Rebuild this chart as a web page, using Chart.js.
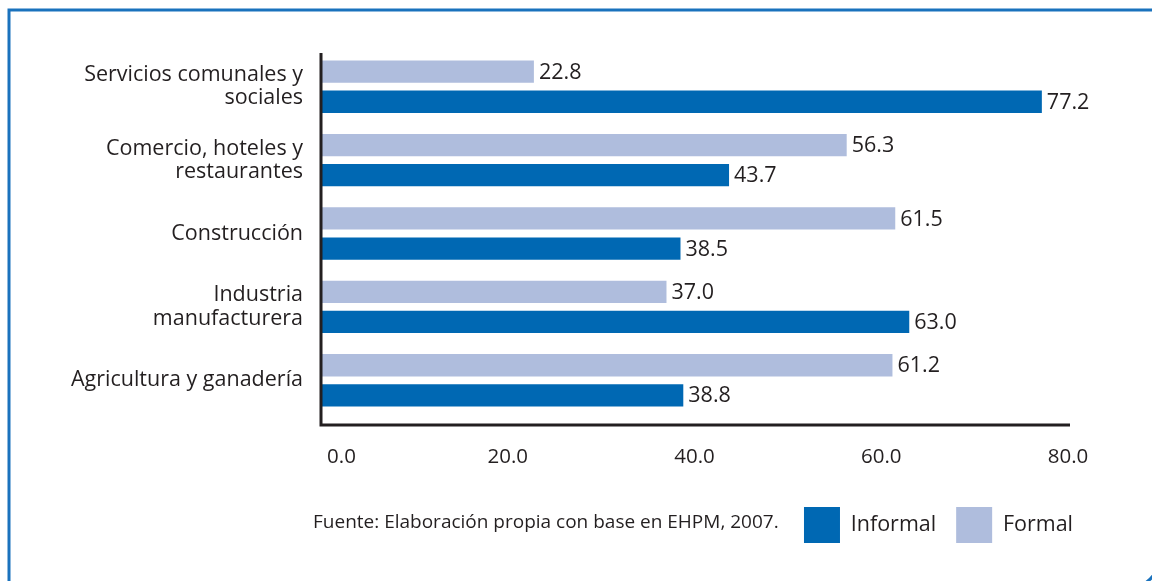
<!DOCTYPE html>
<html><head><meta charset="utf-8">
<script src="https://cdn.jsdelivr.net/npm/chart.js@4.4.1/dist/chart.umd.min.js"></script>
<style>html,body{margin:0;padding:0;background:#fff;}#wrap{position:relative;width:1152px;height:581px;}</style>
</head><body><div id="wrap"><canvas id="c" width="1152" height="581"></canvas></div>
<script>
const categories = [["Servicios comunales y","sociales"],["Comercio, hoteles y","restaurantes"],["Construcción"],["Industria","manufacturera"],["Agricultura y ganadería"]];
const formal = [22.8, 56.3, 61.5, 37.0, 61.2];
const informal = [77.2, 43.7, 38.5, 63.0, 38.8];
const xTicks = [0, 20, 40, 60, 80];
const sourceText = "Fuente: Elaboración propia con base en EHPM, 2007.";

const FONT = "'Open Sans', sans-serif";
const TXT = "#231f20";

const frame = {
  id: 'frame',
  beforeDraw(chart) {
    const ctx = chart.ctx;
    ctx.save();
    ctx.strokeStyle = '#1a72bd';
    ctx.lineWidth = 3;
    ctx.beginPath();
    ctx.moveTo(9, 600);
    ctx.lineTo(9, 10);
    ctx.lineTo(1160, 10);
    ctx.stroke();
    ctx.beginPath();
    ctx.arc(1128, 556, 32, Math.PI * 0.18, Math.PI * 0.4);
    ctx.stroke();
    ctx.restore();
  },
  afterLayout(chart) {
    if (chart.legend) { chart.legend.left += 25; chart.legend.right += 25; }
  },
  afterDraw(chart) {
    const ctx = chart.ctx;
    ctx.save();
    ctx.font = "19px " + FONT;
    ctx.fillStyle = TXT;
    ctx.textBaseline = 'middle';
    ctx.fillText(sourceText, 313, 523);
    const a = chart.chartArea;
    const axisY = a.bottom + 8;
    ctx.strokeStyle = TXT;
    ctx.lineWidth = 3;
    ctx.beginPath();
    ctx.moveTo(a.left, a.top + 3);
    ctx.lineTo(a.left, axisY);
    ctx.lineTo(a.right + 2, axisY);
    ctx.stroke();
    ctx.restore();
  }
};

const valueLabels = {
  id: 'valueLabels',
  afterDatasetsDraw(chart) {
    const ctx = chart.ctx;
    ctx.save();
    ctx.font = "21.5px " + FONT;
    ctx.fillStyle = TXT;
    ctx.textBaseline = 'middle';
    chart.data.datasets.forEach((ds, i) => {
      chart.getDatasetMeta(i).data.forEach((bar, j) => {
        ctx.fillText(ds.data[j].toFixed(1), bar.x + 5, bar.y + 1);
      });
    });
    ctx.restore();
  }
};

new Chart(document.getElementById('c'), {
  type: 'bar',
  data: {
    labels: categories,
    datasets: [
      { label: 'Formal', data: formal, backgroundColor: '#afbddd', categoryPercentage: 0.82, barPercentage: 0.74 },
      { label: 'Informal', data: informal, backgroundColor: '#0068b3', categoryPercentage: 0.82, barPercentage: 0.74 }
    ]
  },
  options: {
    indexAxis: 'y',
    responsive: false,
    animation: false,
    layout: { padding: { left: 0, right: 84, top: 50, bottom: 28 } },
    scales: {
      x: {
        min: 0, max: 80,
        afterBuildTicks(s) { s.ticks = xTicks.map(v => ({ value: v })); },
        afterFit(s) { s.height = 70; },
        grid: { display: false, drawTicks: false },
        border: { display: false },
        ticks: { color: TXT, font: { size: 20.5, family: FONT }, padding: 28,
          callback: v => (Number(v) === 0 ? "\u2002\u2002\u2002\u2002" : "") + Number(v).toFixed(1) }
      },
      y: {
        afterFit(s) { s.width = 321; },
        grid: { display: false, drawTicks: false },
        border: { display: false },
        ticks: { color: TXT, font: { size: 21.5, family: FONT, lineHeight: 1.08 }, padding: 18 }
      }
    },
    plugins: {
      legend: {
        position: 'bottom', align: 'end', reverse: true,
        labels: { boxWidth: 36, boxHeight: 36, padding: 20, color: TXT, font: { size: 21.5, family: FONT } }
      },
      tooltip: { enabled: false }
    }
  },
  plugins: [frame, valueLabels]
});
</script></body></html>
